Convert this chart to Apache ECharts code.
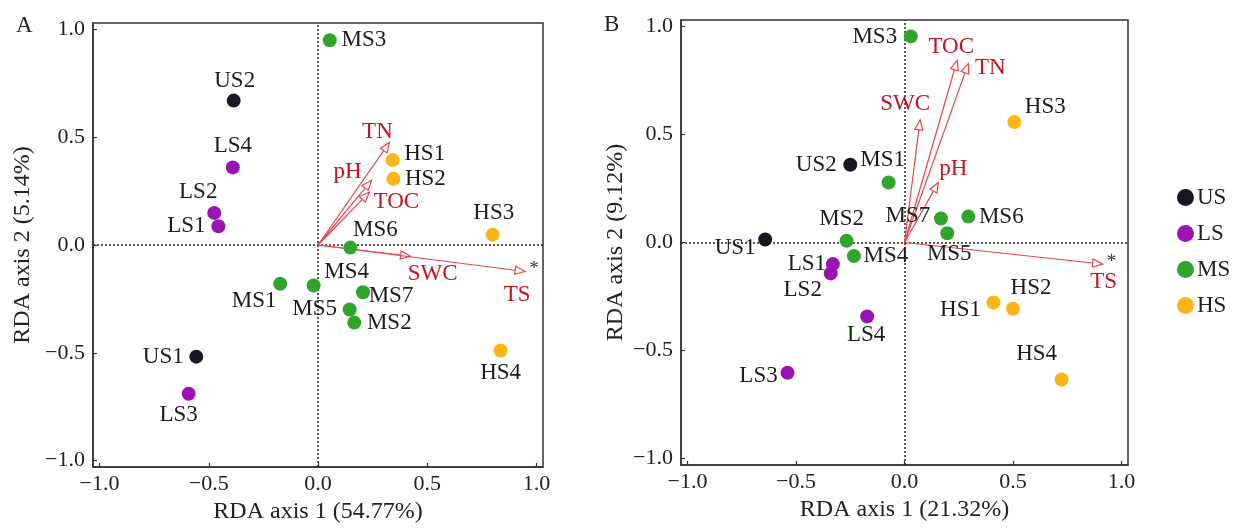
<!DOCTYPE html>
<html>
<head>
<meta charset="utf-8">
<script src="https://cdn.jsdelivr.net/npm/echarts@6/dist/echarts.min.js"></script>
<style>
html,body{margin:0;padding:0;background:#fff;}
#chart{width:1239px;height:529px;}
</style>
</head>
<body>
<div id="chart"></div>
<script>
// ---------- DATA ----------
const groups = ['US', 'LS', 'MS', 'HS'];
const sampleNames = ['US1','US2','LS1','LS2','LS3','LS4','MS1','MS2','MS3','MS4','MS5','MS6','MS7','HS1','HS2','HS3','HS4'];

// Panel A
const axis1A = [-0.557,-0.386,-0.456,-0.475,-0.592,-0.390,-0.173,0.166,0.054,-0.020,0.145,0.148,0.206,0.342,0.345,0.800,0.836];
const axis2A = [-0.518,0.670,0.087,0.149,-0.690,0.360,-0.180,-0.360,0.950,-0.188,-0.299,-0.012,-0.219,0.394,0.307,0.048,-0.490];
// Panel B
const axis1B = [-0.642,-0.250,-0.330,-0.340,-0.539,-0.172,-0.073,-0.267,0.029,-0.233,0.197,0.294,0.168,0.410,0.500,0.506,0.724];
const axis2B = [0.014,0.360,-0.100,-0.143,-0.603,-0.342,0.278,0.008,0.954,-0.063,0.043,0.120,0.111,-0.278,-0.307,0.558,-0.634];

// Environmental vectors
const envNames = ['TN','pH','TOC','SWC','TS'];
const envAxis1A = [0.327,0.245,0.235,0.424,0.948];
const envAxis2A = [0.476,0.300,0.245,-0.052,-0.123];
const envSigA = ['','','','','*'];
const envAxis1B = [0.294,0.156,0.243,0.072,0.913];
const envAxis2B = [0.829,0.278,0.844,0.568,-0.100];
const envSigB = ['','','','','*'];

const axisTitleXA = 'RDA axis 1 (54.77%)';
const axisTitleYA = 'RDA axis 2 (5.14%)';
const axisTitleXB = 'RDA axis 1 (21.32%)';
const axisTitleYB = 'RDA axis 2 (9.12%)';
const panelLetters = ['A','B'];

// ---------- STYLE / LAYOUT ----------
const colors = {US:'#151a22', LS:'#9a14b4', MS:'#2fa52b', HS:'#fbb515'};
const arrowColor = '#e8444c';
const envTextColor = '#c3141f';
const FONT = '"Liberation Serif", "Times New Roman", serif';

// label offsets (px) of sample labels relative to the point centre
const labelOffA = {
  US1:[-33,0], US2:[1,-20], LS1:[-32,0], LS2:[-16,-21], LS3:[-10,21], LS4:[0,-21],
  MS1:[-26,17], MS2:[35,0], MS3:[34,0], MS4:[33,-14], MS5:[-35,0], MS6:[25,-18], MS7:[28,4],
  HS1:[32,-6], HS2:[32,0], HS3:[1,-22], HS4:[0,22]
};
const labelOffB = {
  US1:[-30,8], US2:[-34,0], LS1:[-26,0], LS2:[-28,17], LS3:[-29,3], LS4:[-1,19],
  MS1:[-6,-22], MS2:[-5,-22], MS3:[-36,1], MS4:[32,0], MS5:[2,21], MS6:[33,0], MS7:[-33,-3],
  HS1:[-33,7], HS2:[18,-21], HS3:[31,-15], HS4:[-25,-26]
};
const envLabelOffA = {TN:[-12,-10], pH:[-24,-8], TOC:[27,10], SWC:[22,18], TS:[-8,23]};
const envLabelOffB = {TN:[22,5], pH:[15,-13], TOC:[-6,-13], SWC:[-15,-16], TS:[1,18]};

function fmt(v){
  const s = Math.abs(v).toFixed(1);
  return (v < -1e-9 ? '\u2212' : '') + s;
}

function makeAxis(gridIndex, name, nameGap, isY){
  return {
    type:'value', gridIndex, min:-1.03, max:1.03, splitNumber:4,
    name, nameLocation:'middle', nameGap,
    nameTextStyle:{fontFamily:FONT, fontSize:24, color:'#222'},
    axisLine:{show:true, onZero:false, lineStyle:{color:'#333', width:1.5}},
    axisTick:{show:true, inside:true, length:4, lineStyle:{color:'#333', width:1.2}},
    splitLine:{show:false},
    axisLabel:{fontFamily:FONT, fontSize:22, color:'#222', margin: isY ? 8 : 6,
      showMinLabel:false, showMaxLabel:false, formatter:fmt}
  };
}

function scatterSeries(panel, xs, ys, offs){
  const out = [];
  groups.forEach((g, gi) => {
    const data = [];
    sampleNames.forEach((n, i) => {
      if (n.startsWith(g)) {
        data.push({name:n, value:[xs[i], ys[i]], label:{offset:offs[n]}});
      }
    });
    const s = {
      name:g, type:'scatter', xAxisIndex:panel, yAxisIndex:panel,
      symbol:'circle', symbolSize:14, z:5,
      itemStyle:{color:colors[g], opacity:1},
      label:{show:true, position:'inside', formatter:'{b}', fontFamily:FONT, fontSize:23,
        color:'#1c1c1c', align:'center', verticalAlign:'middle'},
      emphasis:{disabled:true},
      data
    };
    if (gi === 0) {
      s.markLine = {
        silent:true, symbol:['none','none'], label:{show:false},
        lineStyle:{type:[2,2], color:'#222', width:1.5},
        data:[{xAxis:0},{yAxis:0}], z:1
      };
    }
    out.push(s);
  });
  return out;
}

function arrowSeries(panel, ex, ey, sig, offs){
  const data = envNames.map((n, i) => ({name:n, value:[ex[i], ey[i]]}));
  return {
    type:'custom', xAxisIndex:panel, yAxisIndex:panel, z:4, silent:true,
    data,
    renderItem:function(params, api){
      const name = envNames[params.dataIndex];
      const sg = sig[params.dataIndex];
      const o = api.coord([0,0]);
      const t = api.coord([api.value(0), api.value(1)]);
      const dx = t[0]-o[0], dy = t[1]-o[1];
      const L = Math.hypot(dx, dy);
      const ux = dx/L, uy = dy/L;
      const hl = 10, hw = 4;
      const b = [t[0]-ux*hl, t[1]-uy*hl];
      const p1 = [b[0]-uy*hw, b[1]+ux*hw];
      const p2 = [b[0]+uy*hw, b[1]-ux*hw];
      const off = offs[name];
      const children = [
        {type:'line', shape:{x1:o[0], y1:o[1], x2:b[0], y2:b[1]}, style:{stroke:arrowColor, lineWidth:1.2}},
        {type:'polygon', shape:{points:[t, p1, p2]}, style:{fill:'rgba(255,255,255,0)', stroke:arrowColor, lineWidth:1.2}},
        {type:'text', x:t[0]+off[0], y:t[1]+off[1], style:{text:name, fill:envTextColor,
          font:'23px ' + FONT, align:'center', verticalAlign:'middle'}}
      ];
      if (sg) {
        children.push({type:'text', x:t[0]+9, y:t[1]-2, style:{text:sg, fill:'#333',
          font:'19px ' + FONT, align:'center', verticalAlign:'middle'}});
      }
      return {type:'group', children};
    }
  };
}

const chart = echarts.init(document.getElementById('chart'), null, {renderer:'canvas'});
const option = {
  backgroundColor:'#fff',
  animation:false,
  title:[
    {text:panelLetters[0], left:11, top:9, textStyle:{fontFamily:FONT, fontSize:23, fontWeight:'normal', color:'#222'}},
    {text:panelLetters[1], left:599, top:8, textStyle:{fontFamily:FONT, fontSize:23, fontWeight:'normal', color:'#222'}}
  ],
  legend:{
    data:groups, orient:'vertical', left:1172, top:181,
    icon:'circle', itemWidth:17, itemHeight:17, itemGap:13,
    textStyle:{fontFamily:FONT, fontSize:23, color:'#222', padding:[0,0,0,-2]},
    selectedMode:false
  },
  grid:[
    {left:93, top:23, width:450, height:446, show:true, borderColor:'#333', borderWidth:1.5, containLabel:false},
    {left:681, top:20, width:447, height:445, show:true, borderColor:'#333', borderWidth:1.5, containLabel:false}
  ],
  xAxis:[
    makeAxis(0, axisTitleXA, 33, false),
    makeAxis(1, axisTitleXB, 33, false)
  ],
  yAxis:[
    makeAxis(0, axisTitleYA, 58, true),
    makeAxis(1, axisTitleYB, 53, true)
  ],
  series:[
    ...scatterSeries(0, axis1A, axis2A, labelOffA),
    ...scatterSeries(1, axis1B, axis2B, labelOffB),
    arrowSeries(0, envAxis1A, envAxis2A, envSigA, envLabelOffA),
    arrowSeries(1, envAxis1B, envAxis2B, envSigB, envLabelOffB)
  ]
};
chart.setOption(option);
</script>
</body>
</html>
